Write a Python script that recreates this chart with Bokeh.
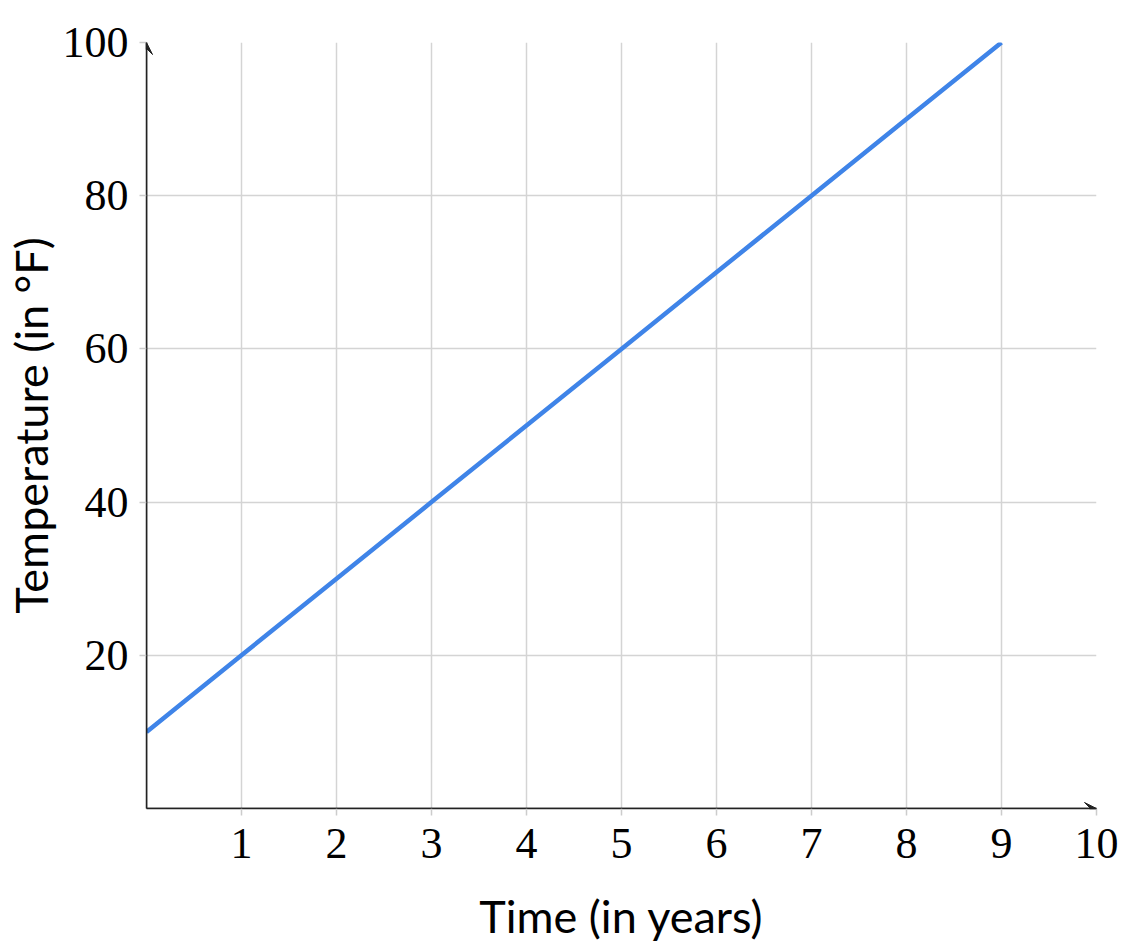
from bokeh.plotting import figure
from bokeh.models import Range1d, FixedTicker, Arrow, VeeHead
from bokeh.embed import file_html
from bokeh.resources import INLINE

# data
years = [0, 1, 2, 3, 4, 5, 6, 7, 8, 9]
temps = [10, 20, 30, 40, 50, 60, 70, 80, 90, 100]
x_ticks = [1, 2, 3, 4, 5, 6, 7, 8, 9, 10]
y_ticks = [20, 40, 60, 80, 100]

p = figure(width=1120, height=936, frame_width=950, frame_height=766,
           output_backend="svg", toolbar_location=None,
           x_range=Range1d(0, 10), y_range=Range1d(0, 100),
           min_border_left=142, min_border_top=42, min_border_right=28,
           min_border_bottom=10)
p.outline_line_color = None
p.background_fill_color = "white"
p.border_fill_color = "white"

p.xaxis.ticker = FixedTicker(ticks=x_ticks)
p.yaxis.ticker = FixedTicker(ticks=y_ticks)
p.xgrid.ticker = FixedTicker(ticks=x_ticks)
p.ygrid.ticker = FixedTicker(ticks=y_ticks)
p.grid.grid_line_color = "#d4d4d4"
p.grid.grid_line_width = 1.5

for ax in (p.xaxis, p.yaxis):
    ax.axis_line_color = "#222222"
    ax.axis_line_width = 1.5
    ax.major_tick_line_color = "#cccccc"
    ax.major_tick_line_width = 1.5
    ax.major_tick_in = 0
    ax.major_tick_out = 7
    ax.minor_tick_line_color = None
    ax.major_label_text_font = "Liberation Serif"
    ax.major_label_text_font_size = "44px"
    ax.major_label_text_color = "black"
    ax.axis_label_text_font = "Lato"
    ax.axis_label_text_font_size = "45px"
    ax.axis_label_text_font_style = "normal"
    ax.axis_label_text_color = "black"

p.xaxis.axis_label = "Time (in years)"
p.yaxis.axis_label = "Temperature (in °F)"
p.xaxis.major_label_standoff = 13
p.yaxis.major_label_standoff = 11
p.xaxis.axis_label_standoff = 28
p.yaxis.axis_label_standoff = 2

p.line(years, temps, line_color="#3f84e8", line_width=4.5)

p.add_layout(Arrow(end=VeeHead(size=12, fill_color="#222222", line_color="#222222"),
                   x_start=0, y_start=0, x_end=10, y_end=0,
                   line_color="#222222", line_width=1.5))
p.add_layout(Arrow(end=VeeHead(size=12, fill_color="#222222", line_color="#222222"),
                   x_start=0, y_start=0, x_end=0, y_end=100,
                   line_color="#222222", line_width=1.5))

open("out.html", "w").write(file_html(p, INLINE))
